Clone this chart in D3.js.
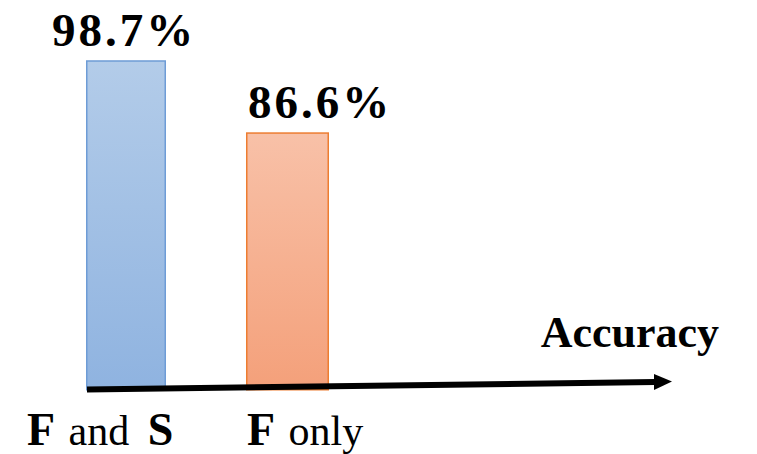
<!DOCTYPE html>
<html>
<head>
<meta charset="utf-8">
<script src="https://cdn.jsdelivr.net/npm/d3@7"></script>
<style>
  html, body { margin: 0; padding: 0; background: #fff; }
  svg { display: block; }
  text { font-family: "Liberation Serif", "Times New Roman", serif; fill: #000; }
</style>
</head>
<body>
<svg id="chart" width="757" height="454"></svg>
<script>
// Accuracy for the two feature sets
const categories = ["F and S", "F only"];
const accuracy = [98.7, 86.6];
const valueLabels = ["98.7%", "86.6%"];
const axisTitle = "Accuracy";

const svg = d3.select("#chart");

// Scales
const barX = d3.scalePoint().domain(categories).range([86, 246]);
const barW = [80, 83];
const y = d3.scaleLinear().domain([44, 100]).range([386, 52.5]);

// Gradients
const defs = svg.append("defs");
const grads = [
  { id: "gBlue", top: "#B3CCE9", bottom: "#8FB3E0", stroke: "#6E9CD6" },
  { id: "gOrange", top: "#F8C1A8", bottom: "#F4A07A", stroke: "#ED7D31" }
];
grads.forEach(g => {
  const lg = defs.append("linearGradient").attr("id", g.id)
    .attr("x1", 0).attr("y1", 0).attr("x2", 0).attr("y2", 1);
  lg.append("stop").attr("offset", "0%").attr("stop-color", g.top);
  lg.append("stop").attr("offset", "100%").attr("stop-color", g.bottom);
});

// Bars
svg.selectAll("rect.bar")
  .data(categories)
  .join("rect")
  .attr("class", "bar")
  .attr("x", d => barX(d) + 0.75)
  .attr("y", (d, i) => y(accuracy[i]) + 0.75)
  .attr("width", (d, i) => barW[i] - 1.5)
  .attr("height", (d, i) => 389 - y(accuracy[i]))
  .attr("fill", (d, i) => `url(#${grads[i].id})`)
  .attr("stroke", (d, i) => grads[i].stroke)
  .attr("stroke-width", 1.5);

// Value labels
const labelDx = [38, 2];
svg.selectAll("text.val")
  .data(valueLabels)
  .join("text")
  .attr("class", "val")
  .attr("x", (d, i) => barX(categories[i]) + labelDx[i])
  .attr("y", (d, i) => y(accuracy[i]) - 14)
  .attr("text-anchor", (d, i) => i === 0 ? "middle" : "start")
  .attr("font-size", 47)
  .attr("font-weight", "bold")
  .attr("letter-spacing", 3)
  .text(d => d);

// Horizontal axis arrow
const ax0 = [87, 389.5], ax1 = [655, 382], tip = [672, 381.5];
svg.append("line")
  .attr("x1", ax0[0]).attr("y1", ax0[1])
  .attr("x2", ax1[0]).attr("y2", ax1[1])
  .attr("stroke", "#000").attr("stroke-width", 6);
svg.append("path")
  .attr("d", `M${ax1[0] - 1},${ax1[1] - 8} L${tip[0]},${tip[1]} L${ax1[0] - 1},${ax1[1] + 8} Z`)
  .attr("fill", "#000");

// Axis title
svg.append("text")
  .attr("x", 719).attr("y", 347)
  .attr("text-anchor", "end")
  .attr("font-size", 44)
  .attr("font-weight", "bold")
  .text(axisTitle);

// Category labels with bold feature letters
const catX = [27, 247];
const cat = svg.selectAll("text.cat")
  .data(categories)
  .join("text")
  .attr("class", "cat")
  .attr("x", (d, i) => catX[i])
  .attr("y", 445)
  .attr("font-size", 42);
cat.each(function(d) {
  const t = d3.select(this);
  d.split(/(F|S)/).filter(s => s.length).forEach((part, k) => {
    const bold = part === "F" || part === "S";
    t.append("tspan")
      .attr("font-weight", bold ? "bold" : "normal")
      .attr("font-size", bold ? 46 : 42)
      .attr("dx", part === "S" && k > 0 ? 8 : part.startsWith(" ") ? 3 : 0)
      .text(part);
  });
});
</script>
</body>
</html>
